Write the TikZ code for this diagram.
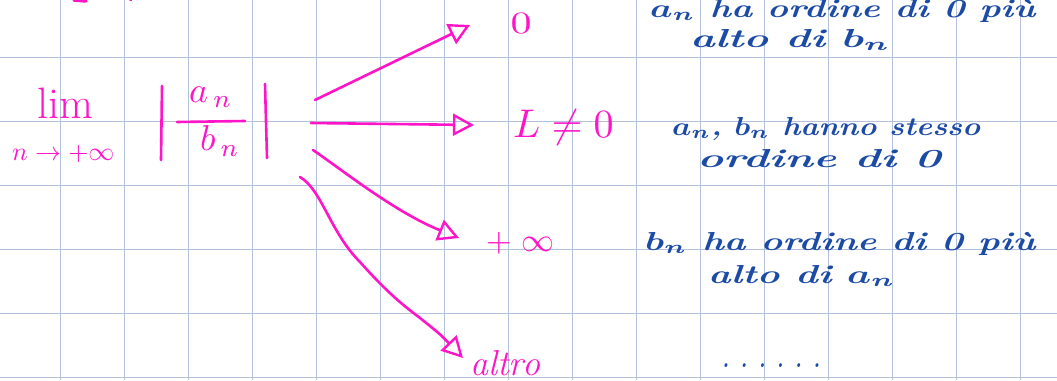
\documentclass[tikz,border=0pt]{standalone}
\usepackage{fontspec}
\usetikzlibrary{arrows.meta}
\definecolor{pk}{HTML}{FF14C8}
\definecolor{bl}{HTML}{1C4BA6}
\definecolor{gridc}{HTML}{B3C2DA}
\newcommand{\fitw}[2]{\resizebox{#1}{2.6\height}{#2}}
\begin{document}
\begin{tikzpicture}[x=1pt,y=-1pt,
  gridline/.style={draw=gridc, line width=1.3pt},
  pkline/.style={draw=pk, line width=2.6pt, line cap=round, line join=round},
  arr/.style={pkline, -{Triangle[open,length=21pt,width=22pt,line width=2.4pt]}},
  pktext/.style={text=pk, inner sep=0pt},
  bltext/.style={text=bl, anchor=base west, inner sep=0pt, font=\bfseries\itshape\boldmath}]
\useasboundingbox (0,0) rectangle (1057,380);
\clip (0,0) rectangle (1057,380);
\fill[white] (0,0) rectangle (1057,380);
% grid
\foreach \i in {0,...,15} \draw[gridline] ({60.7+64*\i},0) -- ({60.7+64*\i},380);
\foreach \j in {0,...,5} \draw[gridline] (0,{57.3+64*\j}) -- (1057,{57.3+64*\j});
% cut-off pink strokes at the top
\draw[pkline, line width=3.5pt] (74,0) -- (86,1);
\draw[pkline] (130,-1) -- (131,0);
% limit expression
\node[pktext, anchor=base west, font=\fontsize{44}{48}\selectfont] (lim) at (37,118) {lim};
\node[pktext, anchor=base west] (sub) at (12,160) {\scalebox{2.6}{$n\to+\infty$}};
\node[pktext] (num) at (211,97) {\scalebox{3.6}{$a_{\,n}$}};
\node[pktext] (den) at (220,141) {\scalebox{3.6}{$b_{\,n}$}};
\draw[pkline] (177,122) -- (245,121);
\draw[pkline] (162,86) -- (161,160);
\draw[pkline] (265,84) -- (267,158);
% start and end points of the connectors
\coordinate (s1) at (315,100);
\coordinate (s2) at (311,123);
\coordinate (s3) at (313,150);
\coordinate (s4) at (300,177);
\coordinate (e1) at (470,25);
\coordinate (e2) at (474,125);
\coordinate (e3) at (459,238);
\coordinate (e4) at (463,358);
% results
\node[pktext] (zero) at (521,24) {\scalebox{4.2}[3.1]{$0$}};
\node[pktext, anchor=base west] (L) at (513,137) {\scalebox{4}{$L\neq 0$}};
\node[pktext, anchor=base west] (inf) at (486,251) {\scalebox{3.3}{$+\;\infty$}};
\node[pktext, anchor=base west, font=\fontsize{36}{40}\selectfont\itshape] (altro) at (470,375) {altro};
% connectors
\draw[arr] (s1) -- (e1);
\draw[arr] (s2) -- (e2);
\draw[arr] (s3) .. controls (345,172) and (395,212) .. (e3);
\draw[arr] (s4) .. controls (322,190) and (330,232) .. (360,262)
  .. controls (385,290) and (400,303) .. (420,318)
  .. controls (440,334) .. (e4);
% explanations
\node[bltext] (t1) at (650,17) {\fitw{385pt}{$a_n$ ha ordine di 0 più}};
\node[bltext] (t1b) at (690,47) {\fitw{200pt}{alto di $b_n$}};
\node[bltext] (t2) at (672,135) {\fitw{308pt}{$a_n$, $b_n$ hanno stesso}};
\node[bltext] (t2b) at (697,167) {\fitw{243pt}{ordine di 0}};
\node[bltext] (t3) at (645,250) {\fitw{390pt}{$b_n$ ha ordine di 0 più}};
\node[bltext] (t3b) at (708,283) {\fitw{187pt}{alto di $a_n$}};
\node[bltext] (t4) at (722,367) {\fitw{98pt}{. . . . . .}};
\end{tikzpicture}
\end{document}
